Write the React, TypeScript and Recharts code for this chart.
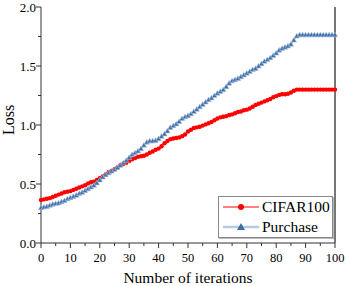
import React from "react";
import { LineChart, Line, XAxis, YAxis, ReferenceLine } from "recharts";

const iterations = Array.from({ length: 101 }, (_, i) => i);

const cifar100 = [
  0.365, 0.37, 0.375, 0.38, 0.39, 0.4, 0.41, 0.42, 0.43, 0.435,
  0.44, 0.45, 0.46, 0.47, 0.48, 0.49, 0.505, 0.515, 0.52, 0.535,
  0.55, 0.565, 0.58, 0.6, 0.61, 0.625, 0.64, 0.66, 0.67, 0.68,
  0.695, 0.71, 0.72, 0.73, 0.735, 0.74, 0.75, 0.765, 0.775, 0.79,
  0.8, 0.82, 0.845, 0.865, 0.88, 0.885, 0.89, 0.895, 0.905, 0.92,
  0.945, 0.96, 0.975, 0.98, 0.985, 0.995, 1.005, 1.015, 1.025, 1.04,
  1.055, 1.065, 1.07, 1.075, 1.085, 1.09, 1.1, 1.11, 1.115, 1.125,
  1.13, 1.14, 1.155, 1.17, 1.18, 1.19, 1.2, 1.21, 1.22, 1.235,
  1.245, 1.255, 1.26, 1.26, 1.265, 1.275, 1.29, 1.3, 1.3, 1.3,
  1.3, 1.3, 1.3, 1.3, 1.3, 1.3, 1.3, 1.3, 1.3, 1.3,
  1.3,
];

const purchase = [
  0.3, 0.305, 0.31, 0.32, 0.33, 0.335, 0.34, 0.35, 0.36, 0.375,
  0.385, 0.395, 0.405, 0.42, 0.43, 0.445, 0.46, 0.475, 0.49, 0.51,
  0.535, 0.56, 0.58, 0.595, 0.61, 0.625, 0.64, 0.66, 0.68, 0.7,
  0.725, 0.75, 0.765, 0.78, 0.8, 0.83, 0.855, 0.865, 0.865, 0.87,
  0.885, 0.905, 0.925, 0.95, 0.98, 0.995, 1.01, 1.03, 1.055, 1.07,
  1.08, 1.095, 1.115, 1.135, 1.155, 1.175, 1.195, 1.215, 1.23, 1.25,
  1.27, 1.285, 1.3, 1.325, 1.355, 1.375, 1.385, 1.395, 1.41, 1.425,
  1.44, 1.455, 1.47, 1.48, 1.5, 1.52, 1.54, 1.555, 1.57, 1.59,
  1.61, 1.635, 1.65, 1.66, 1.67, 1.685, 1.72, 1.755, 1.765, 1.765,
  1.765, 1.765, 1.765, 1.765, 1.765, 1.765, 1.765, 1.765, 1.765, 1.765,
  1.765,
];

const xTicks = [0, 5, 10, 15, 20, 25, 30, 35, 40, 45, 50, 55, 60, 65, 70, 75, 80, 85, 90, 95, 100];
const yTicks = [0, 0.25, 0.5, 0.75, 1, 1.25, 1.5, 1.75, 2];

const data = iterations.map((it, i) => ({ it, cifar: cifar100[i], purchase: purchase[i] }));

const FONT = "Times New Roman, Liberation Serif, Tinos, DejaVu Serif, serif";
const RED = "#ff0000";
const BLUE = "#3d6ea8";

const XTick = (props: any) => {
  const { x, y, payload } = props;
  const major = payload.value % 10 === 0;
  return (
    <g>
      <line x1={x} x2={x} y1={y} y2={y + (major ? 5 : 3)} stroke="#333" />
      {major && (
        <text x={x} y={y + 19} textAnchor="middle" fontSize={12.5} fontFamily={FONT} fill="#000">
          {payload.value}
        </text>
      )}
    </g>
  );
};

const YTick = (props: any) => {
  const { x, y, payload } = props;
  const major = Math.abs((payload.value * 2) % 1) < 1e-6;
  return (
    <g>
      <line x1={x - (major ? 5 : 3)} x2={x} y1={y} y2={y} stroke="#333" />
      {major && (
        <text x={x - 5} y={y + 4.5} textAnchor="end" fontSize={13} fontFamily={FONT} fill="#000">
          {payload.value.toFixed(1)}
        </text>
      )}
    </g>
  );
};

const RedDot = (props: any) => {
  const { cx, cy, index } = props;
  return <circle key={index} cx={cx} cy={cy} r={2.2} fill={RED} />;
};

const TriDot = (props: any) => {
  const { cx, cy, index } = props;
  const s = 2.6;
  return (
    <polygon
      key={index}
      points={`${cx},${cy - s} ${cx - s},${cy + s * 0.8} ${cx + s},${cy + s * 0.8}`}
      fill={BLUE}
      stroke="#a9c0dc"
      strokeWidth={0.6}
    />
  );
};

export default function App() {
  return (
    <div style={{ position: "absolute", left: 0, top: 0, width: 346, height: 286, background: "#fff" }}>
      <LineChart width={346} height={286} data={data} margin={{ top: 7, right: 11, bottom: 0, left: 0 }}>
        <XAxis
          dataKey="it"
          type="number"
          domain={[0, 100]}
          ticks={xTicks}
          interval={0}
          tickSize={0}
          tickMargin={0}
          tick={<XTick />}
          height={43}
          axisLine={{ stroke: "#333" }}
          label={{
            content: () => (
              <text x={188} y={283} textAnchor="middle" fontSize={15.5} fontFamily={FONT} fill="#000">
                Number of iterations
              </text>
            ),
          }}
        />
        <YAxis
          type="number"
          domain={[0, 2]}
          ticks={yTicks}
          interval={0}
          tickSize={0}
          tickMargin={0}
          tick={<YTick />}
          width={41}
          axisLine={{ stroke: "#333" }}
          label={{
            content: () => (
              <text
                x={14}
                y={120}
                transform="rotate(-90 14 120)"
                textAnchor="middle"
                fontSize={16}
                fontFamily={FONT}
                fill="#000"
              >
                Loss
              </text>
            ),
          }}
        />
        <ReferenceLine x={100} stroke="#777" strokeWidth={2} />
        <Line
          dataKey="cifar"
          type="linear"
          stroke={RED}
          strokeWidth={1}
          dot={RedDot}
          isAnimationActive={false}
        />
        <Line
          dataKey="purchase"
          type="linear"
          stroke={BLUE}
          strokeWidth={1}
          dot={TriDot}
          isAnimationActive={false}
        />
      </LineChart>
      <div
        style={{
          position: "absolute",
          left: 218,
          top: 196,
          width: 113,
          height: 40,
          border: "1px solid #888",
          boxShadow: "1px 1px 0 #bbb",
          background: "#fff",
          fontFamily: FONT,
          fontSize: 15.5,
          color: "#000",
        }}
      >
        {[
          { name: "CIFAR100", line: RED, lw: 1, marker: "circle" },
          { name: "Purchase", line: "#b7cbe3", lw: 2.5, marker: "tri" },
        ].map((s) => (
          <div key={s.name} style={{ display: "flex", alignItems: "center", height: 20 }}>
            <svg width={40} height={20} style={{ marginLeft: 2 }}>
              <line x1={2} x2={38} y1={10} y2={10} stroke={s.line} strokeWidth={s.lw} />
              {s.marker === "circle" ? (
                <circle cx={20} cy={10} r={3} fill={RED} />
              ) : (
                <polygon points="20,6 16,13 24,13" fill={BLUE} />
              )}
            </svg>
            <span style={{ marginLeft: 1, lineHeight: "20px" }}>{s.name}</span>
          </div>
        ))}
      </div>
    </div>
  );
}
